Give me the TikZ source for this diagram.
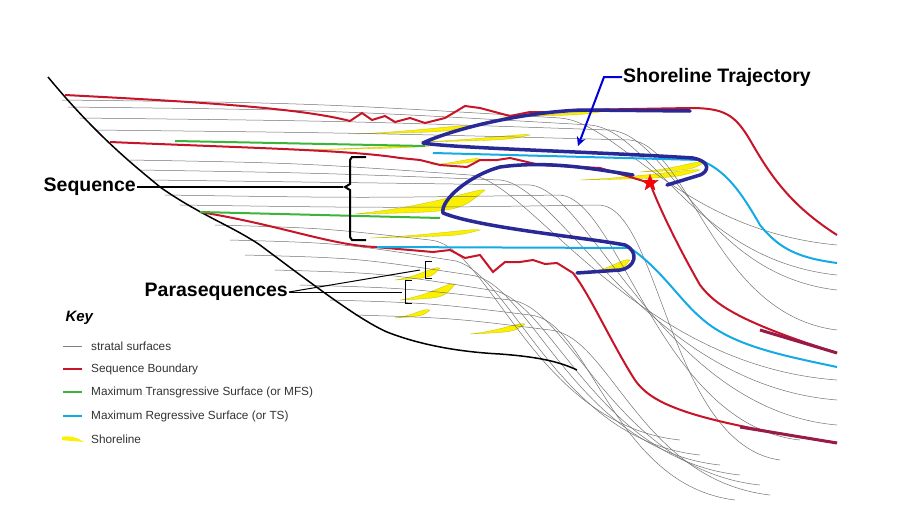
\documentclass[tikz,border=0pt]{standalone}
\usepackage{fontspec}
\setmainfont{Liberation Sans}
\usetikzlibrary{shapes.geometric,arrows.meta}
\definecolor{sb}{RGB}{200,20,40}
\definecolor{mts}{RGB}{60,180,60}
\definecolor{mrs}{RGB}{20,170,230}
\definecolor{traj}{RGB}{40,40,150}
\definecolor{shore}{RGB}{250,240,0}
\tikzset{
 strata/.style={draw=gray!90!black,line width=0.5pt},
 sbline/.style={draw=sb,line width=2pt},
 mtsline/.style={draw=mts,line width=2pt},
 mrsline/.style={draw=mrs,line width=2pt},
 trajline/.style={draw=traj,line width=3.5pt,line cap=round,line join=round},
 lens/.style={fill=shore,draw=shore!80!black,line width=0.3pt},
 lbl/.style={font=\fontsize{19.5}{22}\selectfont\bfseries,inner sep=1pt},
 keytxt/.style={font=\fontsize{11.8}{14}\selectfont,text=black!80,anchor=west,inner sep=0pt},
 brace/.style={draw=black,line width=2pt},
}
\begin{document}
\begin{tikzpicture}[x=1pt,y=-1pt]
\useasboundingbox[fill=white] (0,0) rectangle (900,520);
% yellow lenses
\foreach \a/\b/\y/\h in {355/470/134/10, 420/530/142/9, 300/430/150/6, 355/485/214/26, 370/480/238/10, 395/440/280/14, 400/455/300/18, 395/430/318/10, 470/525/334/12, 580/700/180/12, 640/705/172/12, 590/630/272/14, 500/600/117/7, 430/480/165/8}
  \fill[lens] (\a,\y) .. controls ({\a+0.6*(\b-\a)},{\y-0.3*\h}) and ({\b-8},{\y-\h}) .. (\b,{\y-\h+2}) .. controls ({\b-0.2*(\b-\a)},{\y-2}) .. (\a,\y) -- cycle;
% strata surfaces
\foreach \sx/\sy/\bx/\by/\ex/\ey in {62/100/560/118/837/245, 68/107/590/125/837/275, 80/118/610/130/837/290, 95/130/630/140/837/330,
  130/160/470/175/837/380, 140/170/500/180/837/400, 150/180/530/185/837/425, 165/195/560/195/800/440, 180/205/600/205/780/460,
  215/225/430/240/680/440, 230/240/450/260/700/455, 245/255/470/275/720/465, 275/270/490/290/740/475, 300/285/510/300/760/485, 330/300/530/315/735/500, 355/315/550/330/770/495}
  \draw[strata] (\sx,\sy) .. controls ({0.5*(\sx+\bx)},{\sy+3}) .. (\bx,\by) .. controls (\bx+60,\by+5) and ({0.5*(\bx+\ex)-20},{\ey-15}) .. (\ex,\ey);
% basement
\draw[black,line width=1.5pt] (48,77) .. controls (100,140) and (140,170) .. (160,187) .. controls (200,215) and (230,225) .. (260,245) .. controls (320,290) and (360,320) .. (387,332) .. controls (420,345) and (460,352) .. (500,354) .. controls (540,357) and (560,362) .. (577,370);
% sequence boundaries
\draw[sbline] (65,95) .. controls (200,102) and (300,108) .. (350,121) -- (362,113) -- (372,120) -- (385,116) -- (395,122) -- (410,118) -- (425,123) -- (445,118) -- (465,106) -- (480,108) -- (510,116) -- (530,112) -- (560,112) -- (575,110) -- (690,108) .. controls (725,108) and (735,115) .. (750,140) .. controls (770,175) and (790,205) .. (837,235);
\draw[sbline] (110,142) .. controls (250,148) and (350,150) .. (400,158) -- (420,160) -- (440,165) -- (467,167) -- (480,160) -- (497,160) -- (510,158) -- (540,165) -- (600,168) -- (650,183) .. controls (660,210) and (680,250) .. (700,285) .. controls (715,305) and (740,322) .. (837,353);
\draw[sbline] (200,212) .. controls (280,225) and (330,245) .. (375,247) -- (433,252) -- (450,250) -- (465,258) -- (480,255) -- (493,272) -- (505,262) -- (520,262) -- (533,260) -- (545,264) -- (557,263) -- (573,273) .. controls (590,295) and (610,340) .. (633,377) .. controls (650,405) and (690,420) .. (837,443);
\draw[draw=sb!70!traj,line width=3pt] (760,330) -- (837,353);
\draw[draw=sb!70!traj,line width=3pt] (740,427) -- (837,443);
% MTS
\draw[mtsline] (175,141) -- (425,146);
\draw[mtsline] (200,212) -- (440,218);
% MRS
\draw[mrsline] (433,153) -- (700,160) .. controls (725,170) and (740,190) .. (760,225) .. controls (780,250) and (800,258) .. (837,263);
\draw[mrsline] (377,247) -- (630,248) .. controls (660,268) and (680,300) .. (700,317) .. controls (730,345) and (780,355) .. (837,367);
% trajectory
\draw[trajline] (690,111) -- (583,110) .. controls (520,112) and (450,130) .. (423,143) .. controls (450,148) and (600,152) .. (693,158) .. controls (712,162) and (708,172) .. (700,175) -- (667,185);
\draw[trajline] (633,175) .. controls (600,170) and (550,160) .. (500,167) .. controls (470,175) and (440,200) .. (443,213) .. controls (480,228) and (590,238) .. (625,245) .. controls (640,252) and (635,268) .. (620,270) -- (577,273);
\node[star,star points=5,star point ratio=2.4,fill=red,draw=sb,minimum size=17pt,inner sep=0pt] (star) at (650,183) {};
% labels
\node[lbl,anchor=west] (st) at (622,77) {Shoreline Trajectory};
\coordinate (sttip) at (578,146);
\draw[blue!85!black,line width=2pt,-{Stealth[length=9pt,width=9pt,open]}] (st.west) -- (604,77) -- (sttip);
\node[lbl,anchor=east] (seq) at (137,187) {Sequence};
\coordinate (seqb) at (343,187);
\draw[black,line width=2pt] (seq.east) -- (seqb);
\draw[brace] (366,157) -- (352,157) -- (350,160) -- (350,184) -- (345,187) -- (350,190) -- (350,237) -- (352,240) -- (366,240);
\node[lbl,anchor=east] (para) at (289,292) {Parasequences};
\coordinate (pa) at (420,270);
\coordinate (pb) at (402,292);
\draw[black,line width=1pt] (para.east) -- (pa);
\draw[black,line width=1pt] (para.east) -- (pb);
\draw[black,line width=1pt] (432,261) -- (425,261) -- (425,278) -- (432,278);
\draw[black,line width=1pt] (412,280) -- (405,280) -- (405,303) -- (412,303);
% key
\node[font=\fontsize{15}{17}\selectfont\bfseries\itshape,anchor=west] (key) at (62,318) {Key};
\draw[gray,line width=0.6pt] (63,346) -- (82,346); \node[keytxt] (k1) at (91,346) {stratal surfaces};
\draw[sb,line width=2.5pt] (63,369) -- (82,369); \node[keytxt] (k2) at (91,369) {Sequence Boundary};
\draw[mts,line width=2.5pt] (63,392) -- (82,392); \node[keytxt] (k3) at (91,392) {Maximum Transgressive Surface (or MFS)};
\draw[mrs,line width=2.5pt] (63,416) -- (82,416); \node[keytxt] (k4) at (91,416) {Maximum Regressive Surface (or TS)};
\fill[shore] (62,437) .. controls (70,435) and (78,438) .. (84,442) .. controls (76,441) and (68,441) .. (62,440) -- cycle;
\node[keytxt] (k5) at (91,439) {Shoreline};
\end{tikzpicture}
\end{document}
